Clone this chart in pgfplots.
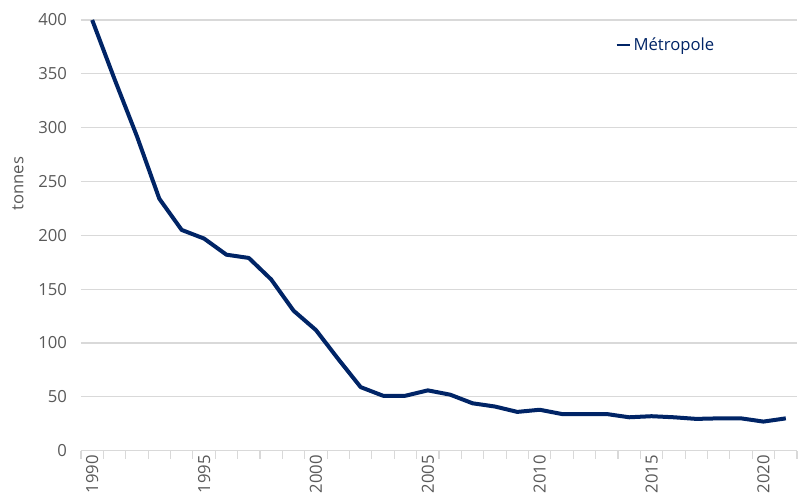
\documentclass[border=0pt]{standalone}
\usepackage{fontspec}
\setmainfont{Open Sans}
\usepackage{pgfplots}
\pgfplotsset{compat=1.18}
\definecolor{navy}{RGB}{0,36,102}
\definecolor{txtgray}{RGB}{89,89,89}
\definecolor{gridgray}{RGB}{217,217,217}
\begin{document}
\begin{tikzpicture}
\begin{axis}[
  scale only axis,
  width=537pt, height=323pt,
  xmin=1989.5, xmax=2021.5,
  ymin=0, ymax=400,
  ytick={0,50,...,400},
  xtick={1990,1995,...,2020},
  minor xtick={1989.5,1990.5,...,2021.5},
  tick align=outside,
  major tick length=0pt,
  minor tick length=6pt,
  tick style={draw=gridgray, line width=0.8pt},
  xticklabel style={rotate=90, anchor=east, font=\fontsize{12.5}{14}\selectfont, text=txtgray},
  yticklabel style={font=\fontsize{12.5}{14}\selectfont, text=txtgray, xshift=-7pt},
  /pgf/number format/assume math mode=true,
  /pgf/number format/1000 sep={},
  ymajorgrids, grid style={gridgray, line width=0.8pt},
  axis x line*=bottom, axis y line*=left,
  x axis line style={gridgray, line width=0.8pt, -},
  y axis line style={draw=none},
  ylabel={tonnes},
  ylabel style={font=\fontsize{12.5}{14}\selectfont, text=txtgray, at={(axis description cs:-0.088,0.62)}, anchor=center},
  legend style={draw=none, fill=none, at={(axis cs:2013.2,377)}, anchor=west, font=\fontsize{12.5}{14}\selectfont, text=navy},
  legend image code/.code={\draw[navy, line width=1.5pt] (0pt,0pt) -- (10pt,0pt);},
  clip=false,
]
\addplot[navy, line width=3pt, line join=round] coordinates {
(1990,400) (1991,345) (1992,292) (1993,234) (1994,205) (1995,197)
(1996,182) (1997,179) (1998,159) (1999,130) (2000,112) (2001,85)
(2002,59) (2003,51) (2004,51) (2005,56) (2006,52) (2007,44)
(2008,41) (2009,36) (2010,38) (2011,34) (2012,34) (2013,34)
(2014,31) (2015,32) (2016,31) (2017,29.5) (2018,30) (2019,30)
(2020,27) (2021,30)
};
\addlegendentry{Métropole}
\end{axis}
\pgfresetboundingbox
\useasboundingbox ([xshift=-60.75pt,yshift=-38.25pt]current axis.south west) rectangle ([xshift=2.25pt,yshift=15pt]current axis.north east);
\end{tikzpicture}
\end{document}
